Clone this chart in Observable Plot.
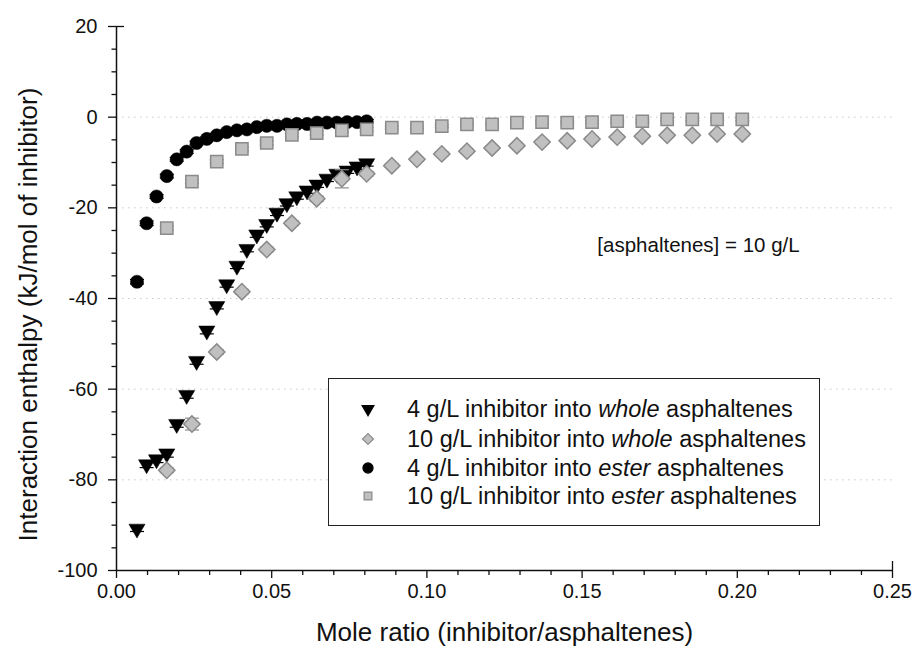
<!DOCTYPE html>
<html>
<head>
<meta charset="utf-8">
<script src="https://cdn.jsdelivr.net/npm/d3@7"></script>
<script src="https://cdn.jsdelivr.net/npm/@observablehq/plot@0.6"></script>
<style>
  html, body { margin: 0; padding: 0; background: #fff; }
  #wrap { position: relative; width: 915px; height: 657px; font-family: "Liberation Sans", Arial, sans-serif; }
  #legend { position: absolute; left: 328px; top: 378px; width: 490px; height: 146px; border: 1.5px solid #222; background: #fff; box-sizing: content-box; }
  #legend .row { position: absolute; left: 0; height: 28px; display: flex; align-items: center; font-size: 23.5px; color: #111; white-space: nowrap; }
  #legend svg { margin-left: 31px; margin-right: 31px; }
</style>
</head>
<body>
<div id="wrap"></div>
<script>
// ---- data ----
const x4 = [0.0066,0.0097,0.0129,0.0162,0.0194,0.0226,0.0258,0.0291,0.0323,0.0355,0.0388,0.0420,0.0452,0.0484,0.0517,0.0549,0.0581,0.0614,0.0646,0.0678,0.0710,0.0743,0.0775,0.0806];
const y4Whole = [-90.8,-76.6,-75.5,-74.2,-67.7,-61.3,-53.8,-47.1,-41.7,-36.9,-32.8,-29.1,-25.9,-23.6,-21.1,-19.0,-17.5,-16.2,-14.9,-13.6,-12.5,-11.8,-10.9,-10.2];
const e4Whole = [0.6,0.7,0.7,0.8,0.7,0.7,0.7,0.7,0.6,0.6,0.6,0.6,0.6,0.6,0.6,0.6,0.6,0.6,0.6,0.6,0.6,0.6,0.6,0.6];
const y4Ester = [-36.3,-23.4,-17.5,-13.0,-9.3,-7.6,-5.7,-4.8,-4.0,-3.3,-2.9,-2.7,-2.2,-1.9,-1.9,-1.6,-1.5,-1.5,-1.2,-1.2,-1.2,-1.1,-1.1,-0.9];
const e4Ester = [0.5,0.5,0.4,0.4,0.4,0.4,0.4,0.4,0.4,0.4,0.4,0.4,0.4,0.4,0.4,0.4,0.4,0.4,0.4,0.4,0.4,0.4,0.4,0.4];

const x10 = [0.0162,0.0243,0.0323,0.0404,0.0484,0.0565,0.0645,0.0726,0.0806,0.0887,0.0968,0.1048,0.1129,0.1210,0.1290,0.1371,0.1452,0.1532,0.1613,0.1694,0.1774,0.1855,0.1935,0.2016];
const y10Whole = [-77.9,-67.7,-51.8,-38.5,-29.2,-23.4,-18.0,-13.6,-12.5,-10.7,-9.3,-8.1,-7.5,-6.8,-6.3,-5.5,-5.2,-4.8,-4.4,-4.2,-4.0,-4.0,-3.7,-3.7];
const e10Whole = [0.5,1.3,0.5,0.5,0.5,0.5,0.6,2.0,0.5,0.4,0.4,0.4,0.4,0.4,0.4,0.4,0.4,0.4,0.4,0.4,0.4,0.4,0.4,0.4];
const y10Ester = [-24.5,-14.2,-9.8,-7.0,-5.7,-3.9,-3.5,-2.9,-2.7,-2.3,-2.3,-2.0,-1.6,-1.6,-1.2,-1.1,-1.2,-1.1,-0.9,-0.9,-0.5,-0.5,-0.5,-0.5];
const e10Ester = [0.4,0.4,0.4,0.4,0.4,0.4,0.4,0.4,0.4,0.3,0.3,0.3,0.3,0.3,0.3,0.3,0.3,0.3,0.3,0.3,0.3,0.3,0.3,0.3];

const seriesNames = [
  ["4 g/L inhibitor into ", "whole", " asphaltenes"],
  ["10 g/L inhibitor into ", "whole", " asphaltenes"],
  ["4 g/L inhibitor into ", "ester", " asphaltenes"],
  ["10 g/L inhibitor into ", "ester", " asphaltenes"]
];
const xTicks = [0, 0.05, 0.10, 0.15, 0.20, 0.25];
const xMinor = [0.01,0.02,0.03,0.04,0.06,0.07,0.08,0.09,0.11,0.12,0.13,0.14,0.16,0.17,0.18,0.19,0.21,0.22,0.23,0.24];
const yTicks = [20, 0, -20, -40, -60, -80, -100];
const yMinor = [15,10,5,-5,-10,-15,-25,-30,-35,-45,-50,-55,-65,-70,-75,-85,-90,-95];
const yGrid = [0, -20, -40, -60, -80];
const annotation = "[asphaltenes] = 10 g/L";
const xTitle = "Mole ratio (inhibitor/asphaltenes)";
const yTitle = "Interaction enthalpy (kJ/mol of inhibitor)";

// ---- build tables ----
const mk = (xs, ys, es) => xs.map((x, i) => ({x, y: ys[i], lo: ys[i] - es[i], hi: ys[i] + es[i]}));
const s4Whole = mk(x4, y4Whole, e4Whole);
const s4Ester = mk(x4, y4Ester, e4Ester);
const s10Whole = mk(x10, y10Whole, e10Whole);
const s10Ester = mk(x10, y10Ester, e10Ester);

const capSymbol = { draw(ctx) { ctx.moveTo(-7, 0); ctx.lineTo(7, 0); } };
const grayFill = "#c0c0c0", grayStroke = "#8a8a8a";

function errMarks(data, color) {
  return [
    Plot.ruleX(data, {x: "x", y1: "lo", y2: "hi", stroke: color, strokeWidth: 1.2}),
    Plot.dot(data, {x: "x", y: "lo", symbol: capSymbol, stroke: color, strokeWidth: 1.2, fill: "none"}),
    Plot.dot(data, {x: "x", y: "hi", symbol: capSymbol, stroke: color, strokeWidth: 1.2, fill: "none"})
  ];
}

const chart = Plot.plot({
  width: 915,
  height: 657,
  marginLeft: 116,
  marginRight: 23,
  marginTop: 26,
  marginBottom: 87,
  style: {fontFamily: "'Liberation Sans', Arial, sans-serif", color: "#111", background: "#fff", overflow: "visible"},
  x: {domain: [0, 0.25]},
  y: {domain: [-100, 20]},
  marks: [
    Plot.ruleY(yGrid, {stroke: "#c8c8c8", strokeDasharray: "1.5,4.5", strokeWidth: 1}),
    // axes
    Plot.axisX(xMinor, {tickSize: 5, tickFormat: () => "", strokeWidth: 1.3, stroke: "#111", label: null}),
    Plot.axisX(xTicks, {tickSize: 8, tickPadding: 5, fontSize: 20, tickFormat: d3.format(".2f"), strokeWidth: 1.3, stroke: "#111", label: null}),
    Plot.axisX([0.25], {tickSize: -9, tickFormat: () => "", strokeWidth: 1.3, stroke: "#111", label: null}),
    Plot.axisY(yMinor, {tickSize: 4.5, tickFormat: () => "", strokeWidth: 1.3, stroke: "#111", label: null}),
    Plot.axisY(yTicks, {tickSize: 8, tickPadding: 11, fontSize: 20, strokeWidth: 1.3, stroke: "#111", tickFormat: d => String(d), label: null}),
    Plot.axisY([20], {tickSize: -8, tickFormat: () => "", strokeWidth: 1.3, stroke: "#111", label: null}),
    Plot.ruleX([0], {stroke: "#111", strokeWidth: 1.5}),
    Plot.ruleY([-100], {stroke: "#111", strokeWidth: 1.5}),
    // axis titles
    Plot.text([xTitle], {frameAnchor: "bottom", dy: 70, text: d => d, fontSize: 26, fill: "#111"}),
    Plot.text([yTitle], {frameAnchor: "left", textAnchor: "middle", dx: -88, dy: 16, rotate: -90, text: d => d, fontSize: 26, fill: "#111"}),
    // 4 g/L whole (black down-triangles)
    ...errMarks(s4Whole, "#000"),
    Plot.dot(s4Whole, {x: "x", y: "y", symbol: "triangle", rotate: 180, r: 6, fill: "#000", stroke: "#000", strokeWidth: 0.5}),
    // 4 g/L ester (black circles)
    ...errMarks(s4Ester, "#000"),
    Plot.dot(s4Ester, {x: "x", y: "y", symbol: "circle", r: 6.6, fill: "#000", stroke: "#000", strokeWidth: 0.5}),
    // 10 g/L whole (gray diamonds)
    ...errMarks(s10Whole, grayStroke),
    Plot.dot(s10Whole, {x: "x", y: "y", symbol: "square", rotate: 45, r: 6.5, fill: grayFill, stroke: grayStroke, strokeWidth: 1.5}),
    // 10 g/L ester (gray squares)
    ...errMarks(s10Ester, grayStroke),
    Plot.dot(s10Ester, {x: "x", y: "y", symbol: "square", r: 6.9, fill: grayFill, stroke: grayStroke, strokeWidth: 1.5}),
    Plot.text([annotation], {x: 0.1875, y: -28.3, text: d => d, fontSize: 20.5, fill: "#111"})
  ]
});

const wrap = document.getElementById("wrap");
wrap.appendChild(chart);

// ---- legend (HTML overlay, drawn from seriesNames) ----
const legend = d3.select(wrap).append("div").attr("id", "legend");
const symbolsSpec = [
  {type: d3.symbolTriangle, rotate: 180, fill: "#000", stroke: "#000", size: 60},
  {type: d3.symbolSquare, rotate: 45, fill: grayFill, stroke: grayStroke, size: 60},
  {type: d3.symbolCircle, rotate: 0, fill: "#000", stroke: "#000", size: 80},
  {type: d3.symbolSquare, rotate: 0, fill: grayFill, stroke: grayStroke, size: 60}
];
const rowTops = [16, 46, 75, 103];
seriesNames.forEach((parts, i) => {
  const row = legend.append("div").attr("class", "row").style("top", rowTops[i] + "px");
  const svg = row.append("svg").attr("width", 16).attr("height", 16);
  const s = symbolsSpec[i];
  svg.append("path")
    .attr("d", d3.symbol(s.type, s.size)())
    .attr("transform", `translate(8,8) rotate(${s.rotate})`)
    .attr("fill", s.fill).attr("stroke", s.stroke).attr("stroke-width", 1.2);
  const t = row.append("span");
  t.append("span").text(parts[0]);
  t.append("i").text(parts[1]);
  t.append("span").text(parts[2]);
});
</script>
</body>
</html>
